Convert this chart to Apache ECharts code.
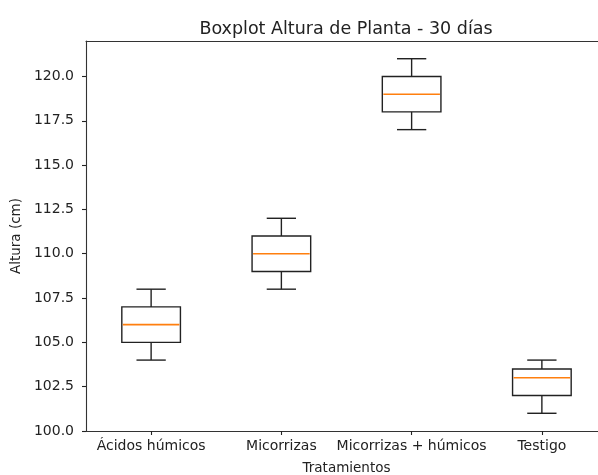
<!DOCTYPE html>
<html>
<head>
<meta charset="utf-8">
<script src="https://cdn.jsdelivr.net/npm/echarts@6/dist/echarts.min.js"></script>
<style>
html,body{margin:0;padding:0;background:#fff;}
#c{width:598px;height:475px;}
</style>
</head>
<body>
<div id="c"></div>
<script>
const categories = ['Ácidos húmicos', 'Micorrizas', 'Micorrizas + húmicos', 'Testigo'];
const whiskerLow  = [104, 108, 117, 101];
const q1          = [105, 109, 118, 102];
const median      = [106, 110, 119, 103];
const q3          = [107, 111, 120, 103.5];
const whiskerHigh = [108, 112, 121, 104];
const yTicks = [100, 102.5, 105, 107.5, 110, 112.5, 115, 117.5, 120];

const data = categories.map((c, i) => [i, whiskerLow[i], q1[i], median[i], q3[i], whiskerHigh[i]]);

const FONT = 'DejaVu Sans';
const chart = echarts.init(document.getElementById('c'), null, {renderer: 'canvas'});

function renderItem(params, api) {
  const x = api.value(0);
  const band = api.size([1, 0])[0];
  const bw = band * 0.45;
  const cw = band * 0.225;
  const pLow = api.coord([x, api.value(1)]);
  const pQ1 = api.coord([x, api.value(2)]);
  const pMed = api.coord([x, api.value(3)]);
  const pQ3 = api.coord([x, api.value(4)]);
  const pHigh = api.coord([x, api.value(5)]);
  const cx = pQ1[0];
  const line = {stroke: '#222', lineWidth: 1.4};
  return {
    type: 'group',
    children: [
      {type: 'line', shape: {x1: cx, y1: pLow[1], x2: cx, y2: pQ1[1]}, style: line},
      {type: 'line', shape: {x1: cx, y1: pQ3[1], x2: cx, y2: pHigh[1]}, style: line},
      {type: 'line', shape: {x1: cx - cw/2, y1: pLow[1], x2: cx + cw/2, y2: pLow[1]}, style: line},
      {type: 'line', shape: {x1: cx - cw/2, y1: pHigh[1], x2: cx + cw/2, y2: pHigh[1]}, style: line},
      {type: 'rect', shape: {x: cx - bw/2, y: pQ3[1], width: bw, height: pQ1[1] - pQ3[1]}, style: {stroke: '#222', lineWidth: 1.4, fill: 'rgba(255,255,255,0)'}},
      {type: 'line', shape: {x1: cx - bw/2 + 1, y1: pMed[1], x2: cx + bw/2 - 1, y2: pMed[1]}, style: {stroke: '#ff7f0e', lineWidth: 1.6}}
    ]
  };
}

chart.setOption({
  animation: false,
  backgroundColor: '#fff',
  title: {
    text: 'Boxplot Altura de Planta - 30 días',
    left: 341, top: 15, textAlign: 'center',
    textStyle: {fontFamily: FONT, fontSize: 17.5, fontWeight: 'normal', color: '#222'}
  },
  grid: {left: 86, top: 41, right: -9, bottom: 44, show: false, containLabel: false, outerBoundsMode: 'none'},
  xAxis: [{
    type: 'category',
    data: categories,
    boundaryGap: true,
    name: 'Tratamientos',
    nameLocation: 'middle',
    nameGap: 30,
    nameTextStyle: {fontFamily: FONT, fontSize: 13.5, color: '#222'},
    axisLine: {show: true, lineStyle: {color: '#333', width: 1.1}},
    axisTick: {show: true, alignWithLabel: true, length: 4, lineStyle: {color: '#222', width: 1.1}},
    axisLabel: {fontFamily: FONT, fontSize: 14, color: '#222', margin: 8, interval: 0},
    splitLine: {show: false}
  }, {
    type: 'category',
    data: categories,
    position: 'top',
    axisLine: {show: true, lineStyle: {color: '#333', width: 1.1}},
    axisTick: {show: false},
    axisLabel: {show: false},
    splitLine: {show: false}
  }],
  yAxis: {
    type: 'value',
    min: 100, max: 122,
    name: 'Altura (cm)',
    nameLocation: 'middle',
    nameGap: 62,
    nameTextStyle: {fontFamily: FONT, fontSize: 13.5, color: '#222'},
    axisLine: {show: true, lineStyle: {color: '#333', width: 1.1}},
    axisTick: {show: true, length: 4, customValues: yTicks, lineStyle: {color: '#222', width: 1.1}},
    axisLabel: {fontFamily: FONT, fontSize: 14, color: '#222', margin: 12, customValues: yTicks, formatter: v => Number(v).toFixed(1)},
    splitLine: {show: false}
  },
  series: [{
    type: 'custom',
    renderItem: renderItem,
    data: data,
    xAxisIndex: 0,
    encode: {x: 0, y: [1, 2, 3, 4, 5]}
  }]
});
</script>
</body>
</html>
